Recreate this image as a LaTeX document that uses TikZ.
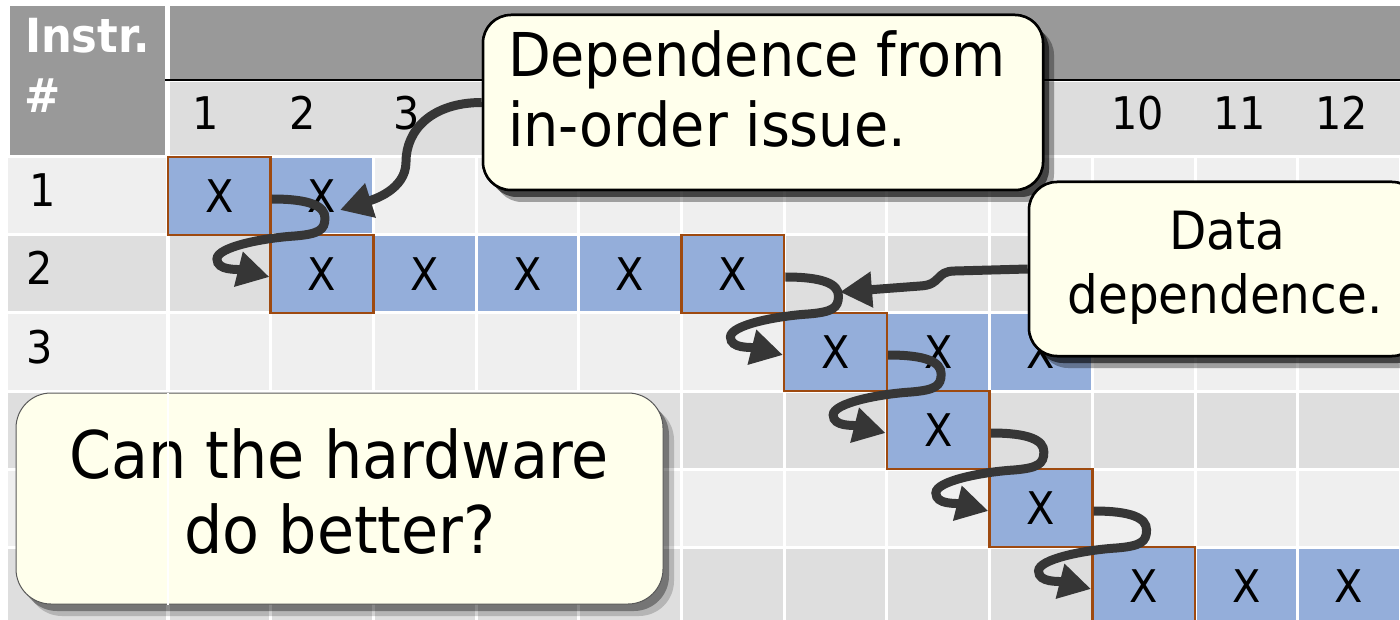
\documentclass[tikz,border=0pt]{standalone}
\usepackage{fontspec}
\setmainfont{DejaVu Sans}[FakeStretch=0.92]
\usetikzlibrary{arrows.meta,shadows}
\definecolor{hdr}{HTML}{999999}
\definecolor{numrow}{HTML}{DDDDDD}
\definecolor{rowA}{HTML}{EFEFEF}
\definecolor{rowB}{HTML}{DEDEDE}
\definecolor{xblue}{HTML}{94AEDA}
\definecolor{brn}{HTML}{9E4A10}
\definecolor{note}{HTML}{FFFFEC}
\definecolor{arr}{HTML}{363636}
\newcommand\fBoxA{\fontsize{60.4pt}{70pt}\selectfont}
\newcommand\fBoxB{\fontsize{52.7pt}{63pt}\selectfont}
\newcommand\fBoxC{\fontsize{65.7pt}{75pt}\selectfont}
\newcommand\fNum{\fontsize{45pt}{45pt}\selectfont}
\newcommand\fHead{\fontsize{47pt}{47pt}\selectfont\bfseries}
\newcommand\fCell{\fontsize{45pt}{45pt}\selectfont}
\begin{document}
\begin{tikzpicture}[x=1pt,y=-1pt,
  txt/.style={inner sep=0pt, outer sep=0pt},
  numtxt/.style={txt, font=\fNum, anchor=base west},
  xcell/.style={fill=xblue, minimum width=99.7pt, minimum height=75pt, inner sep=0pt, font=\fCell},
  hl/.style={xcell, draw=brn, line width=2.5pt, minimum width=102.7pt, minimum height=78pt},
  dep/.style={draw=arr, line width=9pt, -{Triangle[length=32pt,width=34pt]}},
  callout/.style={fill=note, draw=black, line width=2.5pt, rounded corners=28pt, inner sep=0pt,
    drop shadow={shadow xshift=11pt, shadow yshift=-12pt, opacity=.18, fill=black},
    drop shadow={shadow xshift=6pt, shadow yshift=-7pt, opacity=.35, fill=black}},
]
\useasboundingbox (0,0) rectangle (1400,620);
\clip (0,0) rectangle (1400,620);
\fill[white] (0,0) rectangle (1400,620);
% header
\fill[hdr] (10,6) rectangle (165,155);
\fill[hdr] (170,6) rectangle (1400,80);
\fill[numrow] (170,82) rectangle (1400,155);
\draw[line width=2.5pt] (165,80) -- (1400,80);
\node[txt, font=\fHead, text=white, anchor=base west] (hinstr) at (25,53) {Instr.};
\node[txt, font=\fHead, text=white, anchor=base west] (hhash) at (24,113) {\#};
\node[numtxt] (h1) at (192,130) {1};
\node[numtxt] (h2) at (289,130) {2};
\node[numtxt] (h3) at (393,130) {3};
\node[numtxt] (h10) at (1111,130) {10};
\node[numtxt] (h11) at (1213,130) {11};
\node[numtxt] (h12) at (1315,130) {12};
% grid
\foreach \r in {1,...,6} {
  \pgfmathsetmacro\yt{157+(\r-1)*78}
  \ifodd\r\def\cc{rowA}\else\def\cc{rowB}\fi
  \fill[\cc] (8,{\yt+1.5}) rectangle (166,{\yt+76.5});
  \foreach \k in {1,...,12} {
    \fill[\cc] ({168+(\k-1)*102.7+1.5},{\yt+1.5}) rectangle ({168+\k*102.7-1.5},{\yt+76.5});
  }
}
% row labels
\node[numtxt] (r1) at (29,207) {1};
\node[numtxt] (r2) at (26,285) {2};
\node[numtxt] (r3) at (26,363) {3};
% X cells
\foreach \r/\k in {1/2, 2/3, 2/4, 2/5, 3/8, 3/9, 6/11, 6/12} {
  \node[xcell] (x\r-\k) at ({168+(\k-0.5)*102.7},{157+(\r-0.5)*78}) {X};
}
\foreach \r/\k in {1/1, 2/2, 2/6, 3/7, 4/8, 5/9, 6/10} {
  \node[hl] (x\r-\k) at ({168+(\k-0.5)*102.7},{157+(\r-0.5)*78}) {X};
}
% dependence loops
\foreach \a/\b in {1-1/2-2, 2-6/3-7, 3-7/4-8, 4-8/5-9, 5-9/6-10} {
  \draw[dep] ([yshift=-3pt]x\a.east) .. controls +(38,0) and +(0,-12) .. ++(53,19)
     .. controls +(0,12) and +(24,-2) .. ++(-30,18)
     .. controls +(-32,2) and +(0,-12) .. ++(-78,23)
     .. controls +(0,12) and +(-32,-8) .. ([yshift=-3pt]x\b.west);
}
% callout arrows
\coordinate (tip1) at (340,210);
\coordinate (tip2) at (840,292);
\node[callout, minimum width=560pt, minimum height=175pt] (box1) at (763,102.5) {};
\node[callout, minimum width=391pt, minimum height=174pt] (box2) at (1224.5,269) {};
\draw[dep] (box1.west) .. controls +(-50,0) and +(0,-32) .. (406,162)
   .. controls +(0,28) and +(32,-10) .. (tip1);
\draw[dep] (box2.west) -- (955,271) .. controls (935,271) and (942,285) .. (920,286) -- (tip2);
\node[callout, minimum width=560pt, minimum height=175pt] at (box1) {};
\node[callout, minimum width=391pt, minimum height=174pt] at (box2) {};
\node[txt, font=\fBoxA, anchor=base west] (t1a) at (508,77) {Dependence from};
\node[txt, font=\fBoxA, anchor=base west] (t1b) at (508,147) {in-order issue.};
\node[txt, font=\fBoxB, anchor=base] (t2a) at (1227,250) {Data};
\node[txt, font=\fBoxB, anchor=base] (t2b) at (1225,313) {dependence.};
% question box
\node[callout, draw=black!65, line width=1pt, rounded corners=35pt, minimum width=647pt, minimum height=211pt] (box3) at (339.5,498.5) {};
\node[txt, font=\fBoxC, anchor=base] (t3a) at (339,478) {Can the hardware};
\node[txt, font=\fBoxC, anchor=base] (t3b) at (340,553) {do better?};
\draw[white, line width=2.5pt] (168,393) -- (168,605);
\end{tikzpicture}
\end{document}
